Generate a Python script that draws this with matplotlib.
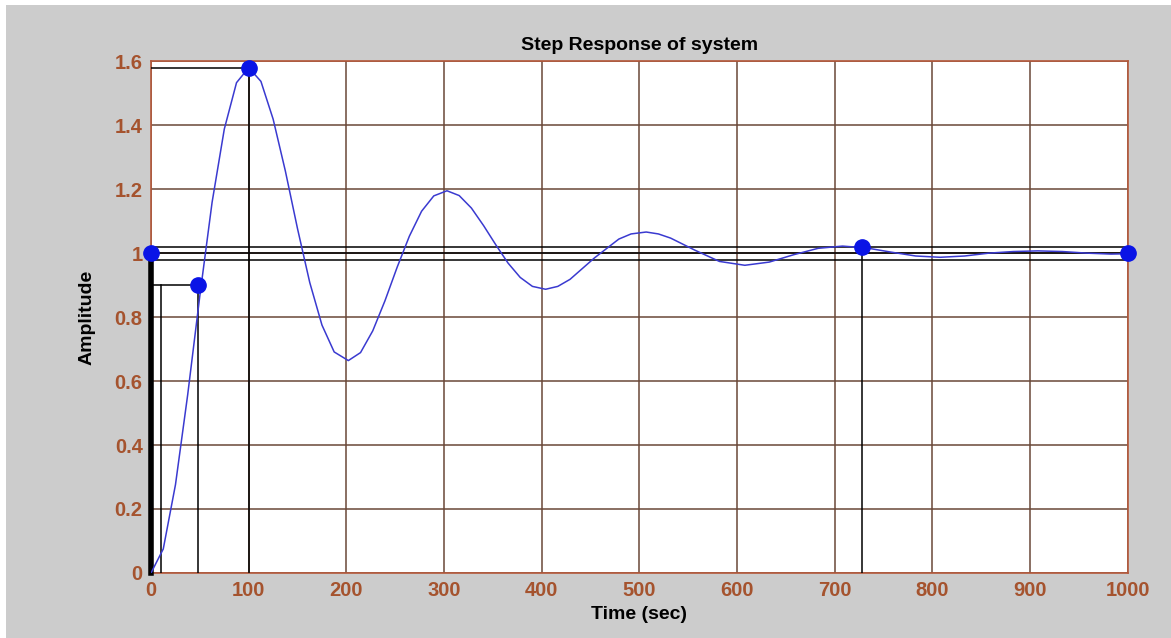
import numpy as np
import matplotlib.pyplot as plt
from matplotlib.patches import Rectangle

plt.rcParams['font.family'] = ['Liberation Sans', 'DejaVu Sans']

# step response
t = [0, 12.5, 25, 37.5, 50, 62.5, 75, 87.5, 100, 112.5, 125, 137.5, 150, 162.5, 175, 187.5,
     202, 214.5, 227, 239.5, 252, 264.5, 277, 289.5, 303, 315.5, 328, 340.5, 353, 365.5,
     378, 390.5, 404, 416.5, 429, 454, 479, 491.5, 507, 519.5, 532, 557, 582, 608, 633, 658,
     683, 708, 733, 758, 783, 808, 833, 858, 883, 908, 933, 958, 983, 1000]
y = [0, 0.075, 0.276, 0.557, 0.868, 1.159, 1.388, 1.533, 1.58, 1.537, 1.419, 1.257, 1.076,
     0.908, 0.775, 0.691, 0.664, 0.689, 0.757, 0.851, 0.956, 1.053, 1.131, 1.179, 1.195,
     1.18, 1.141, 1.086, 1.026, 0.969, 0.924, 0.896, 0.887, 0.896, 0.918, 0.985, 1.044,
     1.060, 1.066, 1.060, 1.047, 1.009, 0.974, 0.962, 0.972, 0.995, 1.015, 1.022, 1.016,
     1.003, 0.991, 0.987, 0.991, 1.0, 1.005, 1.007, 1.005, 1.0, 0.997, 0.998]

# characteristic points
rise_t = [10, 48]
rise_y = [0.1, 0.9]
peak_t, peak_y = 100, 1.58
settle_t, settle_y = 728, 1.02
final_y = 1.0
band = [0.98, 1.02]

grid_c = '#6a4838'
spine_c = '#b4583a'
tick_c = '#a5532e'

fig = plt.figure(figsize=(11.71, 6.38), dpi=100, facecolor='white')
fig.patches.append(Rectangle((6 / 1171, 0), 1, 1 - 5 / 638, transform=fig.transFigure,
                             facecolor='#cccccc', edgecolor='none', zorder=-10))
ax = fig.add_axes([0.129, 0.102, 0.834, 0.802])
ax.set_facecolor('white')

ax.set_xlim(0, 1000)
ax.set_ylim(0, 1.6)
ax.set_xticks(np.arange(0, 1001, 100))
ax.set_yticks(np.arange(0, 1.61, 0.2))
ax.set_xticklabels([str(v) for v in range(0, 1001, 100)])
ax.set_yticklabels(['0', '0.2', '0.4', '0.6', '0.8', '1', '1.2', '1.4', '1.6'])
ax.grid(True, color=grid_c, linewidth=1.1)
ax.tick_params(length=0, labelsize=14.5, labelcolor=tick_c, pad=6)
for lab in ax.get_xticklabels() + ax.get_yticklabels():
    lab.set_fontweight('bold')
for s in ax.spines.values():
    s.set_color(spine_c)
    s.set_linewidth(1.2)

# steady state band and final value
for b in band:
    ax.axhline(b, color='black', linewidth=1.1, zorder=3)
ax.axhline(final_y, color='black', linewidth=1.1, zorder=3)
ax.plot([0, 0], [0, final_y], color='black', linewidth=4, zorder=3, clip_on=False)

# rise time lines
ax.plot([0, rise_t[1]], [rise_y[1], rise_y[1]], color='black', linewidth=1.1, zorder=3)
ax.plot([rise_t[0], rise_t[0]], [0, rise_y[1]], color='black', linewidth=1.1, zorder=3)
ax.plot([rise_t[1], rise_t[1]], [0, rise_y[1]], color='black', linewidth=1.1, zorder=3)

# peak lines
ax.plot([0, peak_t], [peak_y, peak_y], color='black', linewidth=1.1, zorder=3)
ax.plot([peak_t, peak_t], [0, peak_y], color='black', linewidth=1.1, zorder=3)

# settling line
ax.plot([settle_t, settle_t], [0, settle_y], color='black', linewidth=1.1, zorder=3)

ax.plot(t, y, color='#3a3ad0', linewidth=1.1, zorder=4)

ax.plot([0, rise_t[1], peak_t, settle_t, 1000], [final_y, rise_y[1], peak_y, settle_y, final_y],
        'o', color='#0a14e6', markersize=11, zorder=5, clip_on=False)

ax.set_title('Step Response of system', fontsize=14, fontweight='bold', pad=8)
ax.set_xlabel('Time (sec)', fontsize=14, fontweight='bold', labelpad=4)
ax.set_ylabel('Amplitude', fontsize=14, fontweight='bold', labelpad=14)

fig.savefig('out.png', dpi=100, facecolor=fig.get_facecolor())
